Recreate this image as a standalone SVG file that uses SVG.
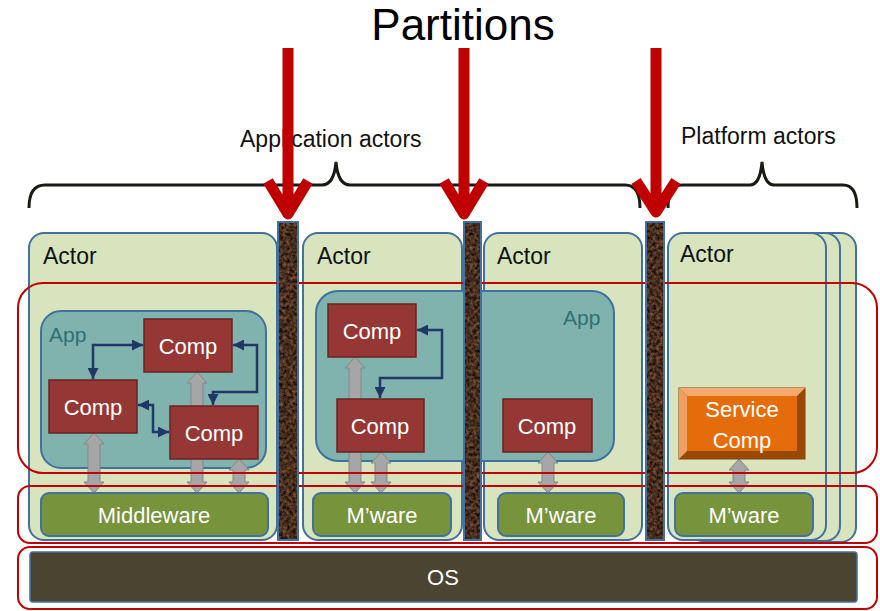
<svg xmlns="http://www.w3.org/2000/svg" width="880" height="611" viewBox="0 0 880 611">
  <style>
    .actor { fill: #d7e4bd; stroke: #41719c; stroke-width: 2; }
    .app { fill: #80b3ae; stroke: #41719c; stroke-width: 2; }
    .apptxt { fill: #2f7078; font-family: "Liberation Sans", Arial, sans-serif; font-size: 21px; }
    .lbl { fill: #111; font-family: "Liberation Sans", Arial, sans-serif; font-size: 23px; }
    .top { fill: #111; font-family: "Liberation Sans", Arial, sans-serif; font-size: 23px; }
    .comp { fill: #953735; stroke: #6a2422; stroke-width: 1.5; }
    .wt { fill: #fff; font-family: "Liberation Sans", Arial, sans-serif; font-size: 22px; text-anchor: middle; }
    .mw { fill: #77933c; stroke: #41719c; stroke-width: 2; }
    .dbl { fill: #a6a6a6; stroke: #858585; stroke-width: 1; }
    .link { fill: none; stroke: #1f3864; stroke-width: 2.5; marker-start: url(#tip); marker-end: url(#tip); }
    .part { fill: none; stroke: #c00000; stroke-width: 2; }
    .bar { stroke: none; filter: url(#bark); }
    .baredge { fill: none; stroke: #41719c; stroke-width: 2; }
    .red { fill: none; stroke: #c00000; stroke-width: 11; stroke-linecap: butt; stroke-linejoin: round; }
    .brace { fill: none; stroke: #1a1a12; stroke-width: 3; }
  </style>
  <defs>
    <marker id="tip" viewBox="0 0 10 10" refX="10" refY="5" markerWidth="11" markerHeight="11" markerUnits="userSpaceOnUse" orient="auto-start-reverse">
      <path d="M0,0 L10,5 L0,10 z" fill="#1f3864"/>
    </marker>
    <!-- bark-like texture for the walls -->
    <filter id="bark" x="0" y="0" width="1" height="1" color-interpolation-filters="sRGB">
      <feTurbulence type="fractalNoise" baseFrequency="0.3" numOctaves="3" seed="7"/>
      <feColorMatrix type="matrix" values="0.7 0 0 0 -0.07  0.48 0 0 0 -0.06  0.34 0 0 0 -0.05  0 0 0 0 1"/>
      <feComposite in2="SourceGraphic" operator="in"/>
    </filter>
  </defs>

  <!-- headings and braces -->
  <text x="463" y="40" font-family="'Liberation Sans', Arial, sans-serif" font-size="44" text-anchor="middle" fill="#000">Partitions</text>
  <text class="top" x="240" y="147">Application actors</text>
  <text class="top" x="681" y="144">Platform actors</text>
  <path class="brace" d="M29,208 Q29,185 45,185 L322,185 Q334,185 336,162 Q338,185 350,185 L625,185 Q640,185 640,208"/>
  <path class="brace" d="M668,208 Q668,185 682,185 L750,185 Q760,185 762,162 Q764,185 774,185 L843,185 Q857,185 857,208"/>

  <!-- actors -->
  <g id="actor1">
    <rect class="actor" x="29" y="233" width="248" height="307" rx="15"/>
    <text class="lbl" x="43" y="264">Actor</text>
  </g>
  <g id="actor2">
    <rect class="actor" x="303" y="233" width="159" height="307" rx="15"/>
    <text class="lbl" x="317" y="264">Actor</text>
  </g>
  <g id="actor3">
    <rect class="actor" x="484" y="233" width="158" height="307" rx="15"/>
    <text class="lbl" x="497" y="264">Actor</text>
  </g>
  <g id="actor4">
    <rect class="actor" x="700" y="233" width="156" height="309" rx="15"/>
    <rect class="actor" x="688" y="233" width="152" height="308" rx="15"/>
    <rect class="actor" x="668" y="233" width="158" height="307" rx="15"/>
    <text class="lbl" x="680" y="262">Actor</text>
  </g>

  <!-- applications -->
  <g id="app1">
    <rect class="app" x="41" y="311" width="225" height="157" rx="20"/>
    <text class="apptxt" x="49" y="342">App</text>
  </g>
  <g id="app2">
    <rect class="app" x="316" y="291" width="298" height="170" rx="22"/>
    <text class="apptxt" x="563" y="325">App</text>
  </g>

  <!-- middleware access arrows -->
  <g id="access">
    <polygon class="dbl" points="94,433 104,444 100,444 100,482 104,482 94,493 84,482 88,482 88,444 84,444"/>
    <polygon class="dbl" points="197,372 207,383 203,383 203,482 207,482 197,493 187,482 191,482 191,383 187,383"/>
    <polygon class="dbl" points="239,459 249,470 245,470 245,482 249,482 239,493 229,482 233,482 233,470 229,470"/>
    <polygon class="dbl" points="355,357 365,368 361,368 361,482 365,482 355,493 345,482 349,482 349,368 345,368"/>
    <polygon class="dbl" points="381,452 391,463 387,463 387,482 391,482 381,493 371,482 375,482 375,463 371,463"/>
    <polygon class="dbl" points="548,452 558,463 554,463 554,482 558,482 548,493 538,482 542,482 542,463 538,463"/>
    <polygon class="dbl" points="739,459 749,470 745,470 745,482 749,482 739,493 729,482 733,482 733,470 729,470"/>
  </g>

  <!-- components -->
  <g id="comp1a">
    <rect class="comp" x="144" y="319" width="88" height="53"/>
    <text class="wt" x="188" y="354">Comp</text>
  </g>
  <g id="comp1b">
    <rect class="comp" x="49" y="380" width="88" height="53"/>
    <text class="wt" x="93" y="415">Comp</text>
  </g>
  <g id="comp1c">
    <rect class="comp" x="170" y="406" width="88" height="53"/>
    <text class="wt" x="214" y="441">Comp</text>
  </g>
  <g id="comp2a">
    <rect class="comp" x="328" y="304" width="88" height="53"/>
    <text class="wt" x="372" y="339">Comp</text>
  </g>
  <g id="comp2b">
    <rect class="comp" x="337" y="399" width="87" height="53"/>
    <text class="wt" x="380" y="434">Comp</text>
  </g>
  <g id="comp3">
    <rect class="comp" x="503" y="399" width="89" height="53"/>
    <text class="wt" x="547" y="434">Comp</text>
  </g>
  <g id="service">
    <rect x="679" y="388" width="126" height="71" fill="#984807" stroke="#8a4206" stroke-width="1"/>
    <polygon points="679,388 805,388 797,396 687,396" fill="#f4a96e"/>
    <polygon points="679,388 687,396 687,451 679,459" fill="#eea063"/>
    <rect x="687" y="396" width="110" height="55" fill="#e46c0a"/>
    <text class="wt" x="742" y="417">Service</text>
    <text class="wt" x="742" y="448">Comp</text>
  </g>

  <!-- component links -->
  <g id="links">
    <path class="link" d="M93,379 L93,345 L143,345"/>
    <path class="link" d="M138,405 L153,405 L153,432 L169,432"/>
    <path class="link" d="M233,345 L257,345 L257,392 L213,392 L213,405"/>
    <path class="link" d="M417,330 L442,330 L442,378 L380,378 L380,398"/>
  </g>

  <!-- middleware -->
  <g id="mw1">
    <rect class="mw" x="41" y="493" width="227" height="43" rx="8"/>
    <text class="wt" x="154" y="523" font-size="23">Middleware</text>
  </g>
  <g id="mw2">
    <rect class="mw" x="313" y="493" width="138" height="43" rx="8"/>
    <text class="wt" x="382" y="523" font-size="23">M’ware</text>
  </g>
  <g id="mw3">
    <rect class="mw" x="498" y="493" width="126" height="43" rx="8"/>
    <text class="wt" x="561" y="523" font-size="23">M’ware</text>
  </g>
  <g id="mw4">
    <rect class="mw" x="675" y="493" width="138" height="43" rx="8"/>
    <text class="wt" x="744" y="523" font-size="23">M’ware</text>
  </g>

  <!-- operating system -->
  <g id="os">
    <rect x="30" y="552" width="827" height="50" rx="3" fill="#4a4430" stroke="#41719c" stroke-width="1.5"/>
    <text class="wt" x="443" y="585" font-size="21">OS</text>
  </g>

  <!-- partition outlines -->
  <g id="partitions">
    <rect class="part" x="18" y="283" width="859" height="190" rx="25"/>
    <rect class="part" x="18" y="486" width="859" height="57" rx="12"/>
    <rect class="part" x="18" y="547" width="859" height="62" rx="12"/>
  </g>

  <!-- separation walls -->
  <g id="walls">
    <rect class="bar" x="278" y="222" width="20" height="318" fill="#000"/>
    <rect class="baredge" x="278" y="222" width="20" height="318"/>
    <rect class="bar" x="464" y="222" width="17" height="318" fill="#000"/>
    <rect class="baredge" x="464" y="222" width="17" height="318"/>
    <rect class="bar" x="646" y="222" width="18" height="318" fill="#000"/>
    <rect class="baredge" x="646" y="222" width="18" height="318"/>
  </g>

  <!-- partition arrows -->
  <g id="arrows">
    <path class="red" d="M288,48 L288,214 M268,181 L288,214 L308,181"/>
    <path class="red" d="M464,48 L464,214 M444,181 L464,214 L484,181"/>
    <path class="red" d="M656,48 L656,212 M636,181 L656,212 L676,181"/>
  </g>
</svg>
